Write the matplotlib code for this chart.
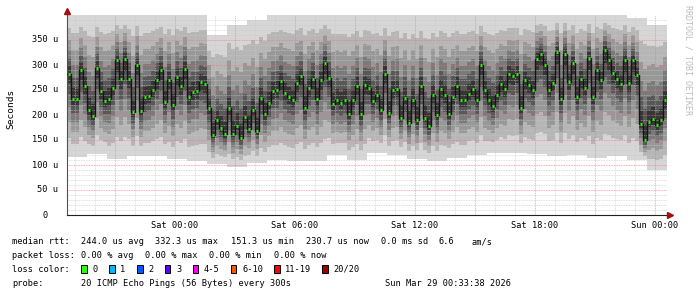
import numpy as np
import matplotlib
matplotlib.use('Agg')
import matplotlib.pyplot as plt
from matplotlib.patches import Rectangle

# median rtt (microseconds), one value every 12 minutes from Fri 18:36
median_us = [283, 233, 232, 290, 259, 211, 198, 295, 248, 228,
             233, 255, 310, 272, 313, 272, 207, 300, 208, 236,
             238, 251, 271, 291, 227, 270, 220, 277, 258, 293,
             236, 247, 249, 267, 262, 215, 160, 190, 175, 162,
             215, 163, 179, 155, 197, 173, 210, 168, 235, 202,
             225, 248, 250, 268, 245, 237, 230, 265, 278, 215,
             254, 272, 233, 270, 305, 275, 223, 231, 225, 231,
             203, 230, 258, 202, 260, 255, 228, 240, 210, 283,
             205, 250, 252, 195, 235, 185, 231, 190, 258, 195,
             178, 240, 200, 252, 240, 202, 237, 258, 230, 230,
             243, 252, 230, 301, 250, 231, 218, 240, 262, 252,
             283, 278, 283, 215, 270, 260, 250, 313, 322, 301,
             251, 265, 327, 233, 323, 267, 305, 237, 273, 255,
             315, 237, 290, 270, 330, 311, 285, 273, 263, 310,
             265, 310, 280, 182, 150, 187, 193, 181, 190, 230]

# smoke extent per hour: highest and lowest ping (microseconds)
smoke_top = [400, 400, 400, 400, 400, 400, 400, 360, 380, 390,
             400, 400, 400, 400, 400, 400, 400, 400, 400, 400,
             400, 400, 400, 400, 400, 400, 400, 400, 395, 380]
smoke_bottom = [117, 122, 112, 118, 118, 112, 108, 102, 97, 105,
                110, 108, 108, 120, 110, 125, 120, 112, 108, 115,
                120, 125, 125, 122, 118, 120, 115, 118, 110, 90]

xtick_labels = ['Sat 00:00', 'Sat 06:00', 'Sat 12:00', 'Sat 18:00', 'Sun 00:00']
loss_labels = ['0', '1', '2', '3', '4-5', '6-10', '11-19', '20/20']
loss_colors = ['#26ff00', '#00b8ff', '#0059ff', '#5e00ff', '#ff00ff',
               '#ff5500', '#ff0000', '#a00000']

W, H = 697, 297
mono = 'DejaVu Sans Mono'
fs = 6.2

fig = plt.figure(figsize=(W / 100, H / 100), dpi=100)
fig.patch.set_facecolor('white')
ax = fig.add_axes([67 / W, 1 - 215 / H, 600 / W, 200 / H])

med = np.array(median_us, dtype=float)
n = len(med)
start_h, step_h = -5.4, 0.2
edges = start_h + step_h * np.arange(n + 1)
centers = edges[:-1] + step_h / 2
top = np.repeat(smoke_top, n // len(smoke_top)).astype(float)
bot = np.repeat(smoke_bottom, n // len(smoke_bottom)).astype(float)

# smoke: layered bands, light outside, dark near the median
fracs = [1.0, 0.78, 0.58, 0.4, 0.25, 0.12]
greys = ['#d6d6d6', '#b6b6b6', '#989898', '#7a7a7a', '#585858', '#363636']
for f, c in zip(fracs, greys):
    up = med + f * (top - med)
    lo = med - f * (med - bot)
    ax.fill_between(edges, np.append(lo, lo[-1]), np.append(up, up[-1]),
                    step='post', color=c, lw=0, zorder=1)

ax.step(edges, np.append(med, med[-1]), where='post', color='#141414',
        lw=1.0, zorder=3)
ax.hlines(med, centers - 0.055, centers + 0.055, color=loss_colors[0],
          lw=2.0, zorder=4)

ax.set_xlim(-5.4, 24.6)
ax.set_ylim(0, 400)

# grid
for h in np.arange(-5, 25, 1):
    col = '#ff7070' if h % 3 == 0 else '#c8c8c8'
    ax.axvline(h, color=col, lw=0.6, ls=(0, (1, 1)), alpha=0.75, zorder=2)
for v in np.arange(10, 400, 10):
    col = '#ff7070' if v % 50 == 0 else '#c8c8c8'
    ax.axhline(v, color=col, lw=0.6, ls=(0, (1, 1)), alpha=0.75, zorder=2)

ax.set_xticks([0, 6, 12, 18, 24])
ax.set_xticklabels(xtick_labels, fontfamily=mono, fontsize=fs)
ax.tick_params(axis='x', length=0, pad=4)
ax.set_yticks([])
ytr = ax.get_yaxis_transform()
for v in range(50, 400, 50):
    ax.text(-0.015, v, f'{v} u', transform=ytr, ha='right', va='center',
            fontfamily=mono, fontsize=fs)
ax.text(-0.0317, 0, '0', transform=ytr, ha='right', va='center',
        fontfamily=mono, fontsize=fs)

for s in ['top', 'right']:
    ax.spines[s].set_visible(False)
ax.spines['left'].set_color('#505050')
ax.spines['bottom'].set_color('#202020')
ax.spines['left'].set_linewidth(0.8)
ax.spines['bottom'].set_linewidth(0.8)
ax.plot([0], [1.02], marker='^', color='#a01010', ms=4, transform=ax.transAxes,
        clip_on=False, zorder=5)
ax.plot([1.005], [0], marker='>', color='#a01010', ms=4, transform=ax.transAxes,
        clip_on=False, zorder=5)

fig.text(11 / W, 1 - 109 / H, 'Seconds', rotation=90, ha='center', va='center',
         fontfamily=mono, fontsize=6.8)
fig.text(688 / W, 1 - 5 / H, 'RRDTOOL / TOBI OETIKER', rotation=270,
         ha='center', va='top', fontfamily=mono, fontsize=6.0, color='#bcbcbc')


def put(x, y, s):
    fig.text(x / W, 1 - y / H, s, ha='left', va='center',
             fontfamily=mono, fontsize=fs)


rows = [(241.7, [(12.3, 'median rtt:'), (80.7, '244.0 us avg'), (155.3, '332.3 us max'),
                 (230.7, '151.3 us min'), (305.7, '230.7 us now'), (380.7, '0.0 ms sd'),
                 (438.3, '6.6'), (471, 'am/s')]),
        (255, [(12.3, 'packet loss:'), (80.7, '0.00 % avg'), (144.7, '0.00 % max'),
               (209.3, '0.00 % min'), (273.7, '0.00 % now')]),
        (283.3, [(12.3, 'probe:'), (80.7, '20 ICMP Echo Pings (56 Bytes) every 300s'),
                 (385, 'Sun Mar 29 00:33:38 2026')])]
for y, items in rows:
    for x, s in items:
        put(x, y, s)

put(12.3, 269.3, 'loss color:')
swatch_x = [81, 109, 137, 164.7, 192.7, 230.7, 274, 322.3]
for sx, lab, col in zip(swatch_x, loss_labels, loss_colors):
    fig.add_artist(Rectangle((sx / W, 1 - 273.3 / H), 5.7 / W, 8 / H,
                             transform=fig.transFigure, facecolor=col,
                             edgecolor='black', lw=0.7))
    put(sx + 11.3, 269.3, lab)

fig.savefig('out.png', dpi=100)
